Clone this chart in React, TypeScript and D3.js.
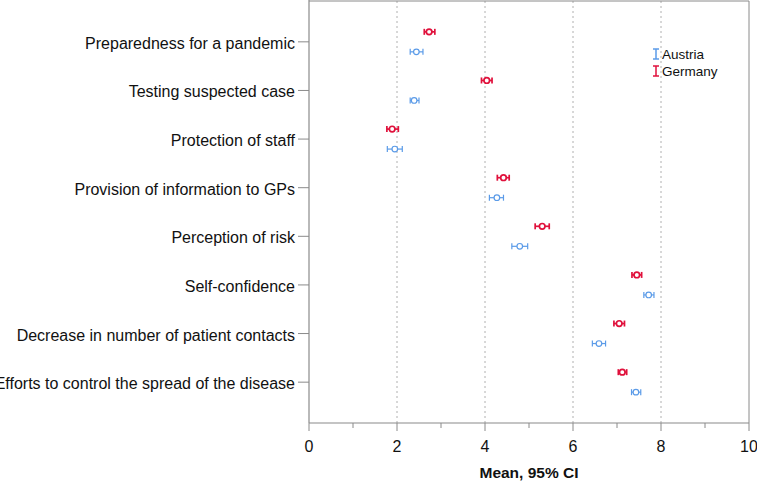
import React from "react";
import * as d3 from "d3";

const categories = [
  "Preparedness for a pandemic",
  "Testing suspected case",
  "Protection of staff",
  "Provision of information to GPs",
  "Perception of risk",
  "Self-confidence",
  "Decrease in number of patient contacts",
  "Efforts to control the spread of the disease",
];

const germanyMean = [2.73, 4.04, 1.89, 4.42, 5.3, 7.45, 7.05, 7.12];
const germanyLow = [2.62, 3.92, 1.77, 4.28, 5.14, 7.34, 6.93, 7.03];
const germanyHigh = [2.86, 4.16, 2.03, 4.55, 5.46, 7.56, 7.17, 7.22];

const austriaMean = [2.44, 2.39, 1.95, 4.27, 4.79, 7.72, 6.59, 7.43];
const austriaLow = [2.3, 2.3, 1.78, 4.1, 4.61, 7.61, 6.44, 7.33];
const austriaHigh = [2.59, 2.5, 2.12, 4.42, 4.97, 7.84, 6.74, 7.54];

const xTicks = [0, 2, 4, 6, 8, 10];
const xMinorTicks = [1, 3, 5, 7, 9];

const W = 757;
const H = 481;
const left = 309;
const right = 749;
const top = 1;
const bottom = 423;

const AXIS = "#8a8a8a";
const GER = "#e0113c";
const AUT = "#5b9be8";
const FONT = "Liberation Sans, Arial, sans-serif";

export default function App() {
  const x = d3.scaleLinear().domain([0, 10]).range([left, right]);
  const y = d3.scalePoint<string>().domain(categories).range([top, bottom]).padding(0.84);
  const off = 10;

  const series = [
    { name: "Germany", mean: germanyMean, low: germanyLow, high: germanyHigh, color: GER, dy: -off, sw: 1.7 },
    { name: "Austria", mean: austriaMean, low: austriaLow, high: austriaHigh, color: AUT, dy: off, sw: 1.2 },
  ];

  return (
    <svg width={W} height={H} style={{ position: "absolute", left: 0, top: 0 }} fontFamily={FONT}>
      <rect x={0} y={0} width={W} height={H} fill="#fff" />
      {xTicks.slice(1, -1).map((t) => (
        <line key={"g" + t} x1={x(t)} x2={x(t)} y1={top} y2={bottom} stroke="#b0b0b0" strokeDasharray="2,3" />
      ))}
      {/* frame */}
      <line x1={left} x2={right} y1={top} y2={top} stroke={AXIS} />
      <line x1={right} x2={right} y1={top} y2={bottom} stroke={AXIS} />
      <line x1={left} x2={left} y1={0} y2={bottom} stroke={AXIS} strokeWidth={1.2} />
      <line x1={left} x2={right} y1={bottom} y2={bottom} stroke={AXIS} strokeWidth={1.2} />
      {xTicks.map((t) => (
        <g key={"t" + t}>
          <line x1={x(t)} x2={x(t)} y1={bottom} y2={bottom + 8} stroke={AXIS} />
          <text x={x(t)} y={452} textAnchor="middle" fontSize={16} fill="#111">
            {t}
          </text>
        </g>
      ))}
      {xMinorTicks.map((t) => (
        <line key={"m" + t} x1={x(t)} x2={x(t)} y1={bottom} y2={bottom + 5} stroke={AXIS} />
      ))}
      <text x={x(5)} y={478} textAnchor="middle" fontSize={15.5} fontWeight="bold" fill="#111">
        Mean, 95% CI
      </text>
      {categories.map((c) => (
        <g key={c}>
          <line x1={left - 11} x2={left} y1={y(c)} y2={y(c)} stroke={AXIS} />
          <text x={left - 14} y={(y(c) as number) + 7} textAnchor="end" fontSize={16} fill="#111">
            {c}
          </text>
        </g>
      ))}
      {series.map((s) =>
        categories.map((c, i) => {
          const cy = (y(c) as number) + s.dy;
          const x1 = x(s.low[i]);
          const x2 = x(s.high[i]);
          return (
            <g key={s.name + c} stroke={s.color} strokeWidth={s.sw} fill="none">
              <line x1={x1} x2={x2} y1={cy} y2={cy} />
              <line x1={x1} x2={x1} y1={cy - 3} y2={cy + 3} />
              <line x1={x2} x2={x2} y1={cy - 3} y2={cy + 3} />
              <circle cx={x(s.mean[i])} cy={cy} r={2.8} fill="#fff" />
            </g>
          );
        })
      )}
      {/* legend */}
      {[
        { name: "Austria", color: AUT, yy: 54 },
        { name: "Germany", color: GER, yy: 71 },
      ].map((l) => (
        <g key={l.name}>
          <g stroke={l.color} strokeWidth={1.5}>
            <line x1={656} x2={656} y1={l.yy - 5} y2={l.yy + 5} />
            <line x1={653} x2={659} y1={l.yy - 5} y2={l.yy - 5} />
            <line x1={653} x2={659} y1={l.yy + 5} y2={l.yy + 5} />
          </g>
          <text x={662} y={l.yy + 5} fontSize={13.5} fill="#111">
            {l.name}
          </text>
        </g>
      ))}
    </svg>
  );
}
